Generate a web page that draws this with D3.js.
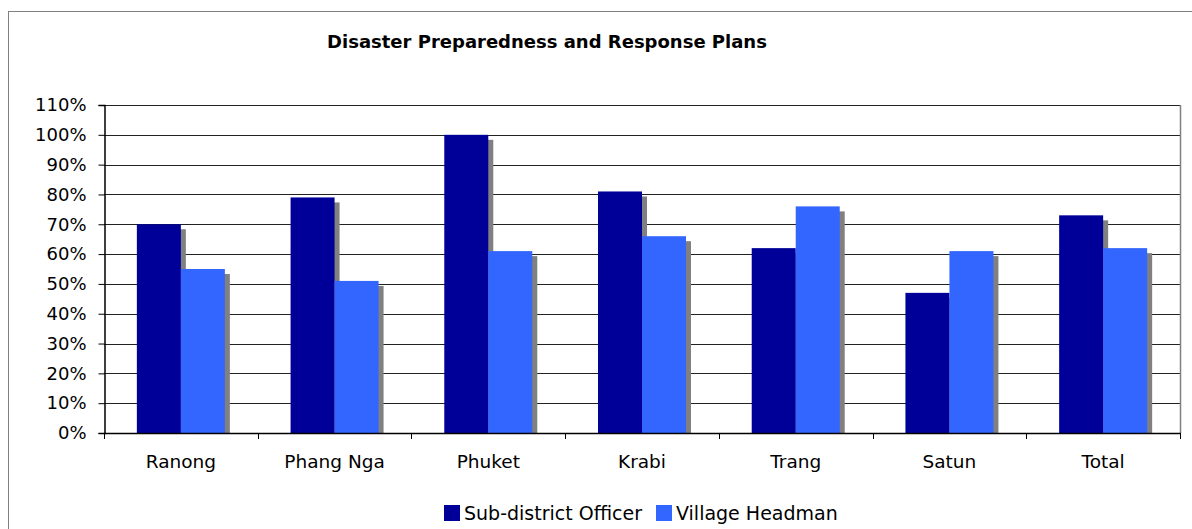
<!DOCTYPE html>
<html>
<head>
<meta charset="utf-8">
<script src="https://cdn.jsdelivr.net/npm/d3@7"></script>
<style>
  html, body { margin: 0; padding: 0; background: #fff; }
  svg { display: block; }
  text { font-family: "DejaVu Sans", Verdana, sans-serif; fill: #000; }
</style>
</head>
<body>
<script>
// Share of respondents reporting disaster preparedness and response plans, by province
const categories = ["Ranong", "Phang Nga", "Phuket", "Krabi", "Trang", "Satun", "Total"];
const seriesNames = ["Sub-district Officer", "Village Headman"];
const subDistrictOfficer = [70, 79, 100, 81, 62, 47, 73];
const villageHeadman = [55, 51, 61, 66, 76, 61, 62];
const yTicks = [0, 10, 20, 30, 40, 50, 60, 70, 80, 90, 100, 110];
const seriesColors = ["#000099", "#3366FF"];

const W = 1192, H = 529;
const plot = { left: 104, right: 1180, top: 105, bottom: 433 };

const svg = d3.select("body").append("svg").attr("width", W).attr("height", H);

// Chart area frame
svg.append("rect")
  .attr("x", 8.5).attr("y", 11.5)
  .attr("width", W + 10).attr("height", H + 10)
  .attr("fill", "#fff").attr("stroke", "#808080").attr("stroke-width", 1);

svg.append("text")
  .attr("x", 547).attr("y", 48)
  .attr("text-anchor", "middle")
  .attr("font-size", "18px").attr("font-weight", "bold")
  .text("Disaster Preparedness and Response Plans");

const x = d3.scaleBand().domain(categories).range([plot.left, plot.right]);
const y = d3.scaleLinear().domain([0, 110]).range([plot.bottom, plot.top]);

// Horizontal gridlines
svg.append("g")
  .selectAll("line")
  .data(yTicks.filter(t => t > 0))
  .join("line")
  .attr("x1", plot.left).attr("x2", plot.right)
  .attr("y1", d => Math.round(y(d)) + 0.5).attr("y2", d => Math.round(y(d)) + 0.5)
  .attr("stroke", "#222").attr("stroke-width", 1);

// Plot area right edge
svg.append("line")
  .attr("x1", plot.right + 0.5).attr("x2", plot.right + 0.5)
  .attr("y1", plot.top).attr("y2", plot.bottom)
  .attr("stroke", "#808080").attr("stroke-width", 1.5);

const groups = [subDistrictOfficer, villageHeadman];
const barW = 44;
const shadowDx = 5, shadowDy = 5;

const barData = [];
categories.forEach((c, i) => {
  groups.forEach((vals, s) => {
    const cx = x(c) + x.bandwidth() / 2;
    barData.push({ cat: c, s, v: vals[i], x0: cx - barW + s * barW });
  });
});

// Drop shadows behind each bar
svg.append("g")
  .selectAll("rect")
  .data(barData)
  .join("rect")
  .attr("x", d => d.x0 + shadowDx)
  .attr("y", d => y(d.v) + shadowDy)
  .attr("width", barW)
  .attr("height", d => plot.bottom - y(d.v) - shadowDy)
  .attr("fill", "#808080");

svg.append("g")
  .selectAll("rect")
  .data(barData)
  .join("rect")
  .attr("x", d => d.x0)
  .attr("y", d => y(d.v))
  .attr("width", barW)
  .attr("height", d => plot.bottom - y(d.v))
  .attr("fill", d => seriesColors[d.s]);

// Y axis
const yAxis = d3.axisLeft(y)
  .tickValues(yTicks)
  .tickFormat(d => d + "%")
  .tickSize(6).tickPadding(12);
const gy = svg.append("g").attr("transform", `translate(${plot.left + 0.5},0)`).call(yAxis);
gy.select(".domain").attr("stroke", "#000").attr("stroke-width", 1.5);
gy.selectAll(".tick line").attr("stroke", "#000");
gy.selectAll(".tick text").attr("font-size", "18px").attr("font-family", "DejaVu Sans, Verdana, sans-serif").attr("fill", "#1a1a1a");

// X axis: ticks at category boundaries
const boundaries = d3.range(categories.length + 1).map(i => plot.left + i * x.step());
const gx = svg.append("g");
gx.append("line")
  .attr("x1", plot.left).attr("x2", plot.right + 1)
  .attr("y1", plot.bottom + 0.5).attr("y2", plot.bottom + 0.5)
  .attr("stroke", "#000").attr("stroke-width", 1.5);
gx.selectAll("line.tk")
  .data(boundaries)
  .join("line")
  .attr("class", "tk")
  .attr("x1", d => Math.round(d) + 0.5).attr("x2", d => Math.round(d) + 0.5)
  .attr("y1", plot.bottom).attr("y2", plot.bottom + 6)
  .attr("stroke", "#000");
gx.selectAll("text")
  .data(categories)
  .join("text")
  .attr("x", d => x(d) + x.bandwidth() / 2)
  .attr("y", 468)
  .attr("text-anchor", "middle")
  .attr("font-size", "18.5px")
  .attr("fill", "#1a1a1a")
  .text(d => d);

// Legend
const legendX = [444, 656];
const lg = svg.append("g");
seriesNames.forEach((name, i) => {
  lg.append("rect")
    .attr("x", legendX[i]).attr("y", 505)
    .attr("width", 16).attr("height", 16)
    .attr("fill", seriesColors[i]);
  lg.append("text")
    .attr("x", legendX[i] + 20).attr("y", 520)
    .attr("font-size", "19px")
    .attr("fill", "#1a1a1a")
    .text(name);
});
</script>
</body>
</html>
